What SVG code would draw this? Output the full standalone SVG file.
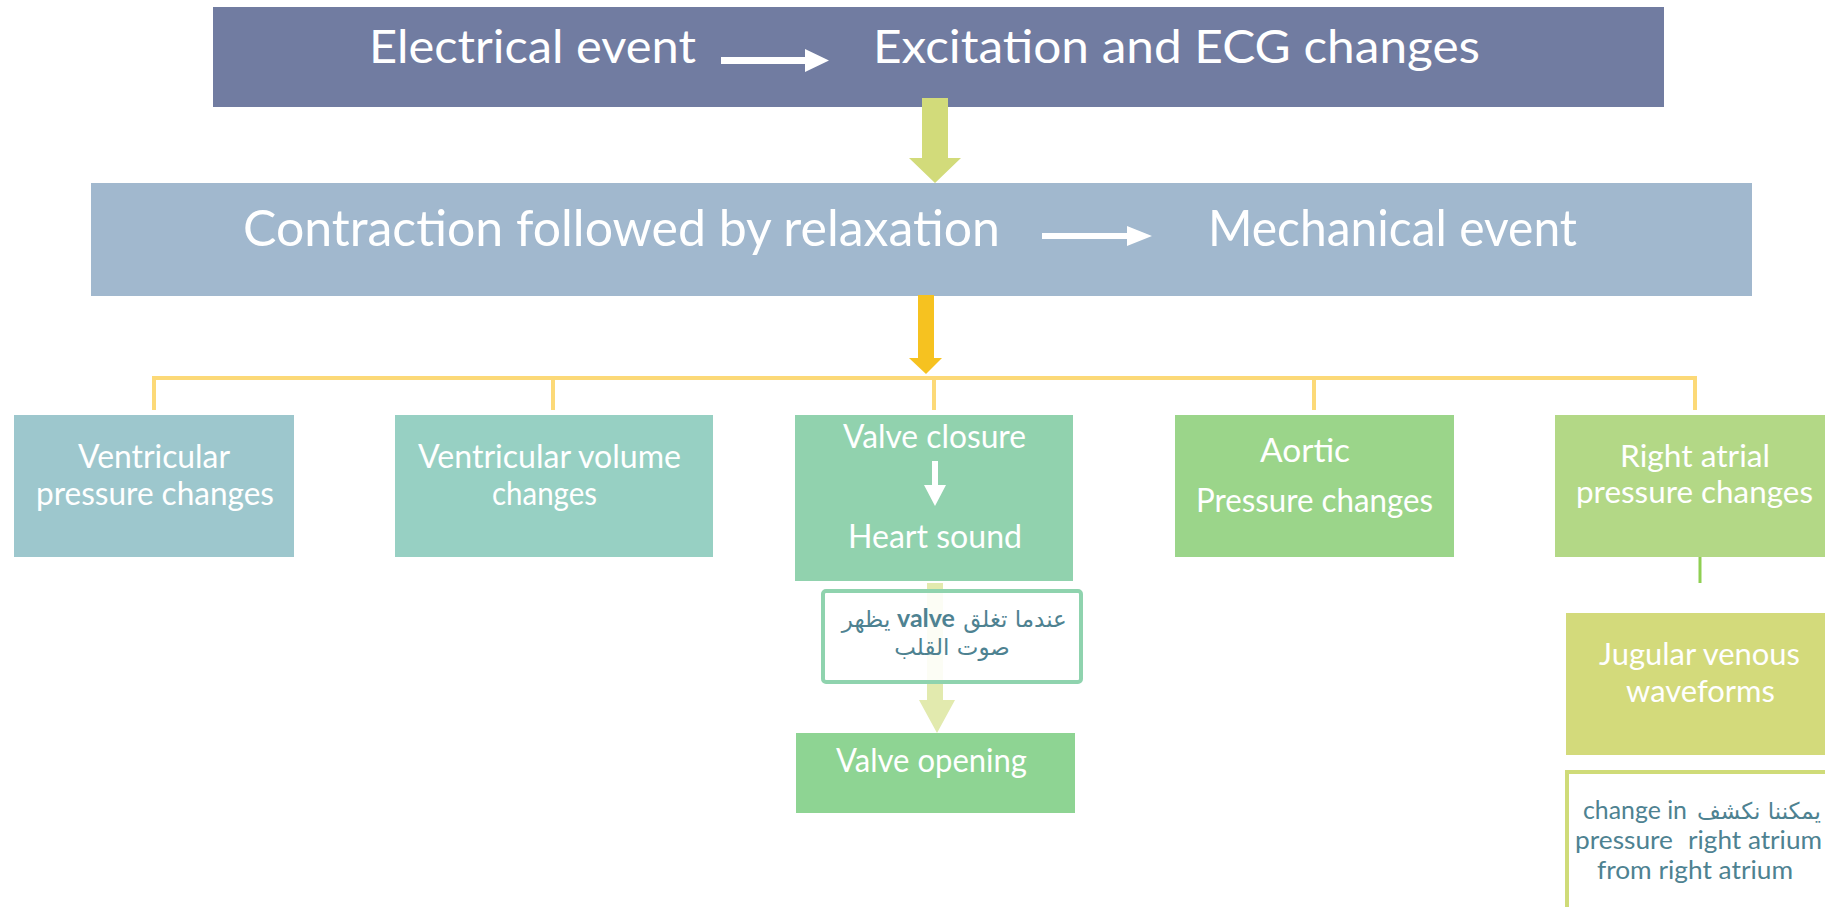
<svg xmlns="http://www.w3.org/2000/svg" width="1825" height="907" viewBox="0 0 1825 907">
<style>
.t{font-family:Lato,"Open Sans","Liberation Sans",sans-serif;fill:#ffffff;}
.big{font-size:46px;}
.big2{font-size:50px;}
.nd{font-size:33px;}
.nd2{font-size:31px;}
.ar{font-family:"DejaVu Sans","Noto Sans",sans-serif;fill:#4e8291;font-size:23px;}
.en{font-family:Lato,"Open Sans","Liberation Sans",sans-serif;fill:#4e8291;font-size:25px;}
.tree{fill:none;stroke:#fcd977;stroke-width:4;}
</style>
<rect width="1825" height="907" fill="#ffffff"/>

<g id="node-electrical">
<rect x="213" y="7" width="1451" height="100" fill="#717ca1"/>
<text class="t big" x="369" y="63" textLength="327" lengthAdjust="spacingAndGlyphs">Electrical event</text>
<path d="M721,57 H805 V49 L829,60.5 L805,72 V64 H721 Z" fill="#ffffff"/>
<text class="t big" x="873" y="63" textLength="607" lengthAdjust="spacingAndGlyphs">Excitation and ECG changes</text>
</g>

<g id="node-mechanical">
<rect x="91" y="183" width="1661" height="113" fill="#a1b8ce"/>
<text class="t big2" x="243" y="246" textLength="757" lengthAdjust="spacingAndGlyphs">Contraction followed by relaxation</text>
<path d="M1042,233 H1127 V226 L1152,236 L1127,246 V239 H1042 Z" fill="#ffffff"/>
<text class="t big2" x="1208" y="246" textLength="369" lengthAdjust="spacingAndGlyphs">Mechanical event</text>
</g>

<g id="connectors">
<path d="M922,98 H948 V158 H961 L935,183 L909,158 H922 Z" fill="#d2db7a"/>
<path class="tree" d="M154,410 V378 H1695 V410 M553,378 V410 M934,378 V410 M1314,378 V410"/>
<path d="M918,295 H934 V358 H942 L926,374 L909,358 H918 Z" fill="#f6c220"/>
<path d="M927,583 H943 V700 H955 L937,733 L919,700 H927 Z" fill="#e2eaae"/>
<line x1="1700" y1="523" x2="1700" y2="583" stroke="#8fcf52" stroke-width="3"/>
</g>

<g id="node-ventricular-pressure">
<rect x="14" y="415" width="280" height="142" fill="#9dc7cd"/>
<text class="t nd" x="78" y="468" textLength="152" lengthAdjust="spacingAndGlyphs">Ventricular</text>
<text class="t nd" x="36" y="505" textLength="238" lengthAdjust="spacingAndGlyphs">pressure changes</text>
</g>

<g id="node-ventricular-volume">
<rect x="395" y="415" width="318" height="142" fill="#97d0c3"/>
<text class="t nd" x="418" y="468" textLength="263" lengthAdjust="spacingAndGlyphs">Ventricular volume</text>
<text class="t nd" x="492" y="505" textLength="105" lengthAdjust="spacingAndGlyphs">changes</text>
</g>

<g id="node-valve-closure">
<rect x="795" y="415" width="278" height="166" fill="#91d2ae"/>
<text class="t nd" x="843" y="448" textLength="183" lengthAdjust="spacingAndGlyphs">Valve closure</text>
<path d="M932,461 H938 V485 H946 L935,506 L924,485 H932 Z" fill="#ffffff"/>
<text class="t nd" x="848" y="548" textLength="174" lengthAdjust="spacingAndGlyphs">Heart sound</text>
</g>

<g id="note-valve">
<rect x="823" y="591" width="258" height="91" rx="3" fill="#ffffff" fill-opacity="0.88" stroke="#8fd3ae" stroke-width="4"/>
<text class="ar" x="1015" y="627" text-anchor="middle">عندما تغلق</text>
<text class="en" x="926" y="627" text-anchor="middle" font-weight="bold" font-size="26">valve</text>
<text class="ar" x="866" y="627" text-anchor="middle">يظهر</text>
<text class="ar" x="952" y="655" text-anchor="middle">صوت القلب</text>
</g>

<g id="node-valve-opening">
<rect x="796" y="733" width="279" height="80" fill="#8ed493"/>
<text class="t nd" x="836" y="772" textLength="191" lengthAdjust="spacingAndGlyphs">Valve opening</text>
</g>

<g id="node-aortic">
<rect x="1175" y="415" width="279" height="142" fill="#9bd58a"/>
<text class="t nd" x="1260" y="462" textLength="90" lengthAdjust="spacingAndGlyphs">Aortic</text>
<text class="t nd" x="1196" y="512" textLength="237" lengthAdjust="spacingAndGlyphs">Pressure changes</text>
</g>

<g id="node-right-atrial">
<rect x="1555" y="415" width="275" height="142" fill="#b3d886"/>
<text class="t nd2" x="1620" y="467" textLength="150" lengthAdjust="spacingAndGlyphs">Right atrial</text>
<text class="t nd2" x="1576" y="503" textLength="237" lengthAdjust="spacingAndGlyphs">pressure changes</text>
</g>

<g id="node-jugular">
<rect x="1566" y="613" width="264" height="142" fill="#d3da7b"/>
<text class="t nd2" x="1599" y="665" textLength="201" lengthAdjust="spacingAndGlyphs">Jugular venous</text>
<text class="t nd2" x="1626" y="702" textLength="149" lengthAdjust="spacingAndGlyphs">waveforms</text>
</g>

<g id="note-jugular">
<rect x="1567" y="772" width="270" height="150" fill="#ffffff" stroke="#cfdb78" stroke-width="4"/>
<text class="en" x="1583" y="819" textLength="104" lengthAdjust="spacingAndGlyphs">change in</text>
<text class="ar" x="1759" y="819" text-anchor="middle">يمكننا نكشف</text>
<text class="en" x="1575" y="849" textLength="98" lengthAdjust="spacingAndGlyphs">pressure</text>
<text class="en" x="1688" y="849" textLength="134" lengthAdjust="spacingAndGlyphs">right atrium</text>
<text class="en" x="1597" y="879" textLength="196" lengthAdjust="spacingAndGlyphs">from right atrium</text>
</g>
</svg>
